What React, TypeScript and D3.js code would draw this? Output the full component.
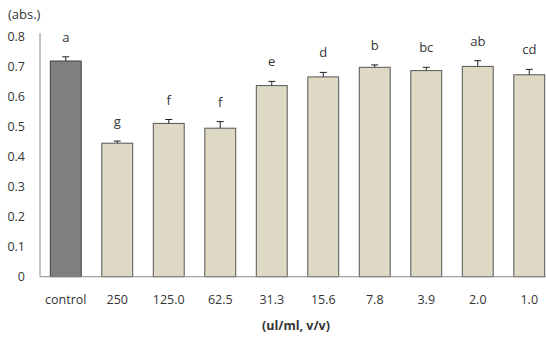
import React from "react";
import * as d3 from "d3";

// Absorbance per treatment concentration (mean and upper SD)
const categories = ["control", "250", "125.0", "62.5", "31.3", "15.6", "7.8", "3.9", "2.0", "1.0"];
const means = [0.719, 0.445, 0.511, 0.495, 0.637, 0.666, 0.698, 0.687, 0.701, 0.673];
const errors = [0.014, 0.007, 0.013, 0.022, 0.014, 0.015, 0.008, 0.011, 0.019, 0.018];
const groups = ["a", "g", "f", "f", "e", "d", "b", "bc", "ab", "cd"];
const yTicks = [0, 0.1, 0.2, 0.3, 0.4, 0.5, 0.6, 0.7, 0.8];

const W = 546;
const H = 340;
const FONT = "'Open Sans', 'Noto Sans', sans-serif";
const TEXT = "#353535";

export default function App() {
  const x = d3.scaleBand<string>().domain(categories).range([40, 555]).paddingInner(0.4).paddingOuter(0.2);
  const y = d3.scaleLinear().domain([0, 0.8]).range([276.7, 36.7]);
  const bw = x.bandwidth();

  return (
    <svg width={W} height={H} style={{ position: "absolute", left: 0, top: 0, background: "#fff" }}>
      <text x={8} y={19} fontFamily={FONT} fontSize={13} fill={TEXT}>(abs.)</text>
      {/* y axis */}
      <line x1={40} x2={40} y1={33} y2={y(0)} stroke="#8a8a8a" strokeWidth={1} />
      {yTicks.map((t) => (
        <text key={t} x={25} y={y(t) + 4.5} textAnchor="end" fontFamily={FONT} fontSize={12.5} fill={TEXT}>
          {t === 0 ? "0" : t.toFixed(1)}
        </text>
      ))}
      {/* bars */}
      {categories.map((c, i) => {
        const x0 = x(c)!;
        const cx = x0 + bw / 2;
        const top = y(means[i]);
        const capY = y(means[i] + errors[i]);
        return (
          <g key={c}>
            <rect
              x={x0}
              y={top}
              width={bw}
              height={y(0) - top}
              fill={i === 0 ? "#7f7f7f" : "#ddd9c4"}
              stroke={i === 0 ? "#404040" : "#555"}
              strokeWidth={1}
            />
            <line x1={cx} x2={cx} y1={top} y2={capY} stroke="#222" strokeWidth={1} />
            <line x1={cx - 3.5} x2={cx + 3.5} y1={capY} y2={capY} stroke="#222" strokeWidth={1} />
            <text x={cx} y={capY - 15} textAnchor="middle" fontFamily={FONT} fontSize={13} fill={TEXT}>
              {groups[i]}
            </text>
            <text x={cx} y={304} textAnchor="middle" fontFamily={FONT} fontSize={12.5} fill={TEXT}>
              {c}
            </text>
          </g>
        );
      })}
      {/* x axis baseline */}
      <line x1={40} x2={W} y1={y(0)} y2={y(0)} stroke="#8a8a8a" strokeWidth={1} />
      <text x={296} y={330} textAnchor="middle" fontFamily={FONT} fontSize={12.5} fontWeight="bold" fill={TEXT}>
        (ul/ml, v/v)
      </text>
    </svg>
  );
}
